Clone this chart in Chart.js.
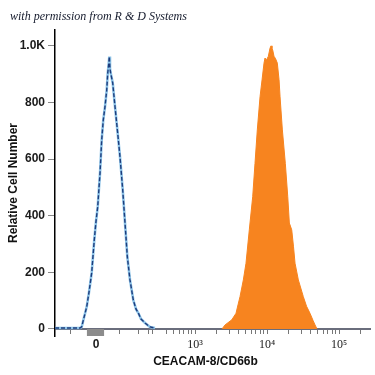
<!DOCTYPE html>
<html><head><meta charset="utf-8">
<script src="https://cdn.jsdelivr.net/npm/chart.js@4"></script>
<style>html,body{margin:0;padding:0;background:#fff;}canvas{display:block;}</style>
</head><body>
<canvas id="c" width="375" height="375"></canvas>
<script>
// x values are positions on the biexponential display axis (in decades: 3 = 10^3, 4 = 10^4 ...)
const isotypePos = [1.056, 1.403, 1.426, 1.458, 1.496, 1.528, 1.565, 1.601, 1.625, 1.649, 1.667, 1.681, 1.704, 1.726, 1.750, 1.774, 1.788, 1.799, 1.810, 1.819, 1.829, 1.857, 1.889, 1.926, 1.958, 1.996, 2.028, 2.060, 2.097, 2.143, 2.181, 2.213, 2.250, 2.306, 2.375, 2.444];
const isotypeCount = [3, 3, 7, 40, 78, 130, 198, 314, 380, 432, 500, 551, 667, 738, 785, 844, 904, 930, 962, 920, 904, 869, 785, 692, 609, 491, 374, 255, 173, 102, 70, 56, 35, 21, 7, 3];
const stainedPos = [3.375, 3.417, 3.458, 3.510, 3.569, 3.597, 3.625, 3.671, 3.708, 3.754, 3.801, 3.833, 3.865, 3.903, 3.931, 3.958, 3.972, 3.993, 4.018, 4.042, 4.056, 4.069, 4.079, 4.097, 4.118, 4.143, 4.167, 4.181, 4.213, 4.254, 4.288, 4.310, 4.343, 4.368, 4.389, 4.435, 4.504, 4.549, 4.597, 4.639, 4.667, 4.694];
const stainedCount = [0, 14, 22, 32, 55, 85, 114, 173, 232, 350, 467, 585, 703, 820, 880, 939, 957, 950, 963, 992, 1000, 990, 985, 963, 955, 939, 880, 820, 703, 585, 467, 374, 350, 290, 232, 173, 114, 80, 55, 30, 14, 0];
const zeroBlockPos = [1.496, 1.740];
const zeroBlockCount = [-25, -25];

const yTicks = [0, 200, 400, 600, 800, 1000];
const yTickLabels = ['0', '200', '400', '600', '800', '1.0K'];
const xMajorTicks = [1.625, 3, 4, 5];
const xMajorLabels = ['0', '10³', '10⁴', '10⁵'];
const xMinorTicks = [1.274, 1.958, 2.222, 2.357, 2.413, 2.602, 2.699, 2.778, 2.845, 2.903, 2.954,
  3.301, 3.477, 3.602, 3.699, 3.778, 3.845, 3.903, 3.954,
  4.301, 4.477, 4.602, 4.699, 4.778, 4.845, 4.903, 4.954, 5.301];
const xMin = 1.0556, xMax = 5.43;
const yMin = -25, yMax = 1056;

const watermarkText = 'with permission from R & D Systems';
const xTitle = 'CEACAM-8/CD66b';
const yTitle = 'Relative Cell Number';

const toPts = (xs, ys) => xs.map((x, i) => ({x: x, y: ys[i]}));

const textPlugin = {
  id: 'extraText',
  afterDraw(chart) {
    const ctx = chart.ctx;
    ctx.save();
    ctx.font = 'italic 12px "Liberation Serif"';
    ctx.fillStyle = '#141a2c';
    ctx.textBaseline = 'middle';
    ctx.textAlign = 'left';
    ctx.fillText(watermarkText, 10, 17);
    ctx.font = 'bold 12px "Liberation Sans"';
    ctx.fillStyle = '#111';
    ctx.textAlign = 'center';
    const a = chart.chartArea;
    ctx.fillText(xTitle, (a.left + a.right) / 2 - 7, 362);
    ctx.restore();
  }
};

const allXTicks = xMajorTicks.concat(xMinorTicks).sort((a, b) => a - b);

new Chart(document.getElementById('c'), {
  type: 'line',
  data: {
    datasets: [
      {
        data: toPts(stainedPos, stainedCount),
        borderColor: '#f7841f', backgroundColor: '#f7841f', borderWidth: 1,
        fill: 'origin', pointRadius: 0, tension: 0, order: 3
      },
      {
        data: toPts(isotypePos, isotypeCount),
        borderColor: '#1d3c7c', borderWidth: 1.4, borderDash: [4, 2], fill: false, pointRadius: 0, tension: 0, order: 1
      },
      {
        data: toPts(isotypePos, isotypeCount),
        borderColor: '#8ec4e8', borderWidth: 2.6, fill: false, pointRadius: 0, tension: 0, order: 2
      },
      {
        data: toPts(zeroBlockPos, zeroBlockCount),
        borderColor: '#8c8c8c', backgroundColor: '#8c8c8c', borderWidth: 0,
        fill: 'origin', pointRadius: 0, order: 4
      }
    ]
  },
  options: {
    responsive: false,
    animation: false,
    devicePixelRatio: 1,
    layout: {padding: {top: 30, right: 5, bottom: 39, left: 0}},
    plugins: {legend: {display: false}, tooltip: {enabled: false}},
    scales: {
      x: {
        type: 'linear',
        position: {y: 0},
        min: xMin, max: xMax,
        afterBuildTicks: s => { s.ticks = allXTicks.map(v => ({value: v})); },
        ticks: {
          autoSkip: false, maxRotation: 0, minRotation: 0, padding: 5, color: '#1a1a1a',
          callback: v => { const i = xMajorTicks.indexOf(v); return i >= 0 ? xMajorLabels[i] : ''; },
          font: ctx => (ctx.tick && ctx.tick.value === xMajorTicks[0])
            ? {family: '"Liberation Sans"', size: 12, weight: 'bold'}
            : {family: '"Liberation Serif"', size: 12, weight: 'normal'}
        },
        grid: {drawOnChartArea: false, drawTicks: true, tickLength: 4, tickColor: '#777', tickWidth: 1},
        border: {display: true, color: '#6a6d7c', width: 2}
      },
      y: {
        type: 'linear',
        position: 'left',
        min: yMin, max: yMax,
        afterBuildTicks: s => { s.ticks = yTicks.map(v => ({value: v})); },
        afterFit: s => { s.width = 55; },
        ticks: {
          padding: 3, color: '#1a1a1a',
          font: {family: '"Liberation Sans"', size: 12, weight: 'bold'},
          callback: v => yTickLabels[yTicks.indexOf(v)]
        },
        grid: {drawOnChartArea: false, drawTicks: true, tickLength: 7, tickColor: '#888', tickWidth: 1},
        border: {display: true, color: '#000', width: 1.5},
        title: {
          display: true, text: yTitle, color: '#111',
          font: {family: '"Liberation Sans"', size: 12, weight: 'bold'},
          padding: {top: 6, bottom: 0}
        }
      }
    }
  },
  plugins: [textPlugin]
});
</script>
</body></html>
